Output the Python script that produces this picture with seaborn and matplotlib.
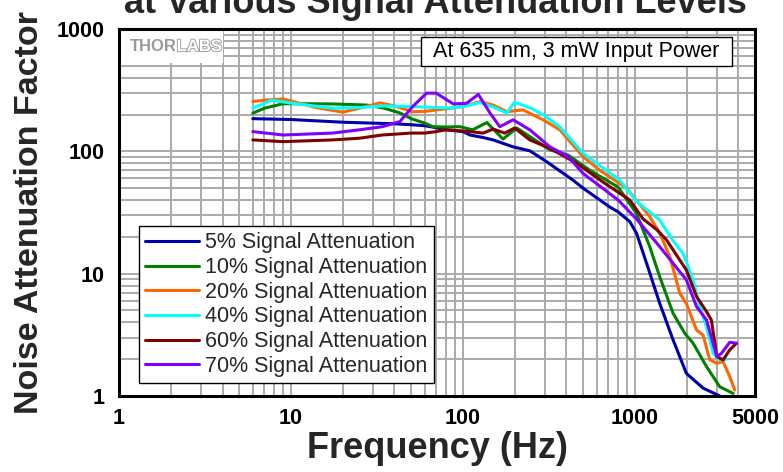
import numpy as np
import pandas as pd
import matplotlib
matplotlib.use('Agg')
import matplotlib.pyplot as plt
import matplotlib.patheffects as pe
from matplotlib.patches import Rectangle
from matplotlib.ticker import LogLocator, NullFormatter
import seaborn as sns

# ---------------- data ----------------
series_labels = ['5% Signal Attenuation', '10% Signal Attenuation', '20% Signal Attenuation',
                 '40% Signal Attenuation', '60% Signal Attenuation', '70% Signal Attenuation']
series_colors = ['#0000aa', '#008000', '#ff6600', '#00ffff', '#800000', '#8000ff']

f_5 = [6, 10, 20, 30, 40, 50, 60, 70, 80, 100, 110, 130, 150, 195, 245, 308, 438, 500,
       626, 716, 800, 935, 1023, 1170, 1397, 1670, 1995, 2495, 3120]
v_5 = [185, 182, 173, 170, 168, 165, 162, 156, 150, 145, 136, 130, 124, 109, 101, 82, 58, 50,
       40, 35, 32, 26.6, 21.4, 12.2, 5.7, 2.87, 1.53, 1.16, 1.0]

f_10 = [6, 7, 9, 12, 17.5, 27.5, 35, 43, 50, 60, 67, 80, 96, 114, 138, 171, 206, 245, 320,
        410, 548, 800, 1023, 1222, 1397, 1670, 1954, 2183, 2612, 3120, 3730]
v_10 = [205, 225, 245, 245, 244, 239, 225, 206, 185, 170, 159, 158, 159, 150, 172, 126, 155,
        132, 103, 93, 70, 51, 31, 16.6, 9.4, 4.74, 3.25, 2.7, 1.74, 1.19, 1.05]

f_20 = [6, 7, 9, 14, 20, 25, 33, 40, 51, 60, 70, 87, 100, 126, 150, 180, 224, 293, 366, 500,
        626, 895, 1222, 1397, 1597, 1828, 1995, 2286, 2495, 2731, 3000, 3261, 3566, 3811]
v_20 = [255, 262, 268, 228, 209, 225, 249, 235, 211, 212, 218, 226, 232, 255, 239, 211, 218,
        181, 150, 90.5, 70, 50, 29.2, 21.4, 13.8, 6.9, 5.7, 3.46, 3.15, 1.97, 1.85, 1.91, 1.44, 1.12]

f_40 = [6, 7.7, 10, 17.5, 25, 35, 51, 70, 87, 100, 126, 150, 180, 200, 250, 293, 366, 500,
        818, 1023, 1397, 1650, 1908, 2183, 2388, 2612, 2851, 3120, 3414]
v_40 = [225, 262, 248, 225, 228, 235, 232, 228, 226, 232, 250, 230, 206, 252, 225, 199, 159,
        96.5, 58, 39, 27.5, 19, 14.7, 8.9, 5.37, 3.69, 2.23, 1.97, 2.0]

f_60 = [6, 9, 17.5, 25, 34, 50, 60, 70, 80, 110, 131, 150, 175, 200, 245, 320, 458, 654,
        935, 1117, 1337, 1528, 1995, 2286, 2612, 2787, 3000, 3261, 3566, 3900]
v_60 = [124, 120, 124, 128, 136, 141, 141, 145, 150, 145, 141, 152, 141, 155, 124, 106, 80,
        56, 40, 28, 23, 18.9, 10.7, 6.5, 4.9, 4.18, 2.1, 1.97, 2.38, 2.7]

f_70 = [6, 9, 17.5, 25, 34, 43, 51, 61.5, 70, 88, 105, 123, 144, 164, 196, 245, 320, 410,
        500, 800, 1023, 1397, 1995, 2286, 2612, 3000, 3190, 3566, 3900]
v_70 = [145, 136, 141, 150, 159, 175, 232, 299, 299, 244, 247, 292, 205, 159, 181, 150, 109,
        90.5, 66, 40, 28, 16.6, 8.9, 5.37, 4.18, 2.1, 2.23, 2.75, 2.7]

x_ticks = [1, 10, 100, 1000, 5000]
x_tick_labels = ['1', '10', '100', '1000', '5000']
y_ticks = [1, 10, 100, 1000]
y_tick_labels = ['1', '10', '100', '1000']

title_text = 'at Various Signal Attenuation Levels'
x_label = 'Frequency (Hz)'
y_label = 'Noise Attenuation Factor'
note_text = 'At 635 nm, 3 mW Input Power'

# ---------------- build table ----------------
freqs = [f_5, f_10, f_20, f_40, f_60, f_70]
vals = [v_5, v_10, v_20, v_40, v_60, v_70]
frames = []
for lab, fx, vy in zip(series_labels, freqs, vals):
    frames.append(pd.DataFrame({'freq': fx, 'value': vy, 'series': lab}))
df = pd.concat(frames, ignore_index=True)
palette = dict(zip(series_labels, series_colors))

# ---------------- plot ----------------
sns.set_style('white')
plt.rcParams['font.family'] = ['Liberation Sans', 'DejaVu Sans']

fig = plt.figure(figsize=(7.83, 4.72), dpi=100)
ax = fig.add_axes([119 / 783, 76 / 472, 636 / 783, 367 / 472])
ax.set_xscale('log')
ax.set_yscale('log')

sns.lineplot(data=df, x='freq', y='value', hue='series', hue_order=series_labels,
             palette=palette, estimator=None, sort=True, lw=2.2, ax=ax)

ax.set_xlim(1, 5000)
ax.set_ylim(1, 1000)
ax.set_axisbelow(True)

ax.set_xticks(x_ticks, labels=x_tick_labels)
ax.set_yticks(y_ticks, labels=y_tick_labels)
ax.xaxis.set_minor_locator(LogLocator(base=10, subs=np.arange(2, 10), numticks=30))
ax.yaxis.set_minor_locator(LogLocator(base=10, subs=np.arange(2, 10), numticks=30))
ax.xaxis.set_minor_formatter(NullFormatter())
ax.yaxis.set_minor_formatter(NullFormatter())

ax.grid(True, which='major', color='#aaaaaa', lw=1.4)
ax.grid(True, which='minor', color='#aaaaaa', lw=1.4)

ax.tick_params(axis='x', which='major', direction='out', length=4, width=1.6,
               color='black', labelsize=15.5, pad=5, labelcolor='black')
ax.tick_params(axis='x', which='minor', direction='out', length=3, width=1.3, color='black')
ax.tick_params(axis='y', which='major', direction='out', length=6, width=1.6,
               color='black', labelsize=15.5, pad=4, labelcolor='black')
ax.tick_params(axis='y', which='minor', direction='out', length=3.5, width=1.3, color='black')
for lab in ax.get_xticklabels() + ax.get_yticklabels():
    lab.set_fontweight('bold')

for s in ax.spines.values():
    s.set_linewidth(2.2)
    s.set_color('black')

ax.set_xlabel('')
ax.set_ylabel('')

# legend
handles, lbls = ax.get_legend_handles_labels()
for h in handles:
    h.set_linewidth(2.2)
leg = ax.legend(handles, lbls, loc='lower left', bbox_to_anchor=(0.031, 0.035),
                frameon=True, fancybox=False, edgecolor='black', framealpha=1,
                fontsize=15.5, handlelength=2.5, handletextpad=0.3, labelspacing=0.17,
                borderpad=0.3, borderaxespad=0)
leg.get_frame().set_linewidth(1.0)

# logo region (white background, grey text)
ax.add_patch(Rectangle((1, 530), 3, 470, facecolor='white', edgecolor='none', zorder=1))
t1 = ax.text(0.017, 0.952, 'THOR', transform=ax.transAxes, ha='left', va='center',
             fontsize=12, fontweight='bold', color='#9a9a9a', zorder=3)
ax.annotate('LABS', xy=(1, 0), xycoords=t1, ha='left', va='bottom', fontsize=12,
            fontweight='bold', color='white', zorder=3,
            path_effects=[pe.withStroke(linewidth=1.3, foreground='#9a9a9a')])

# note box
ax.add_patch(Rectangle((0.475, 0.899), 0.489, 0.079, transform=ax.transAxes,
                       facecolor='white', edgecolor='black', lw=1.0, zorder=4))
ax.text(0.7195, 0.9387, note_text, transform=ax.transAxes, ha='center', va='center',
        fontsize=15.5, color='black', zorder=5)

# titles / labels
fig.text(435 / 783, 1 - 13 / 472, title_text, ha='center', va='baseline',
         fontsize=26, fontweight='bold')
fig.text(437 / 783, 1 - 458 / 472, x_label, ha='center', va='baseline',
         fontsize=26, fontweight='bold')
fig.text(38 / 783, 1 - 212.5 / 472, y_label, rotation=90, rotation_mode='anchor',
         ha='center', va='baseline', fontsize=24.5, fontweight='bold')

fig.savefig('out.png', dpi=100)
